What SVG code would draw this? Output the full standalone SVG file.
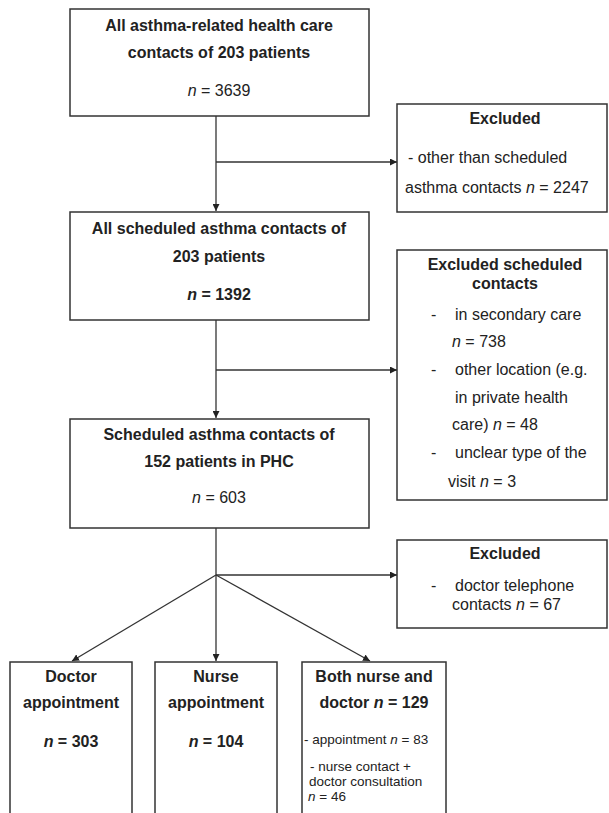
<svg xmlns="http://www.w3.org/2000/svg" width="609" height="813" viewBox="0 0 609 813">
<style>
.box{fill:#fff;stroke:#333;stroke-width:1.5}
.t{font-family:"Liberation Sans",Arial,sans-serif;font-size:16px;fill:#222}
.b{font-weight:bold}
.c{text-anchor:middle}
.s{font-size:13.5px}
.ln{fill:none;stroke:#333;stroke-width:1.3}
</style>
<defs>
<marker id="ah" viewBox="0 0 10 10" refX="10" refY="5" markerWidth="7" markerHeight="7" orient="auto" markerUnits="userSpaceOnUse">
<path d="M0,0 L10,5 L0,10 z" fill="#222"/>
</marker>
</defs>
<rect width="609" height="813" fill="#fff"/>
<g id="connectors">
<line class="ln" x1="216" y1="116" x2="216" y2="211" marker-end="url(#ah)"/>
<line class="ln" x1="216" y1="162" x2="397" y2="162" marker-end="url(#ah)"/>
<line class="ln" x1="216" y1="320" x2="216" y2="418" marker-end="url(#ah)"/>
<line class="ln" x1="216" y1="370" x2="397" y2="370" marker-end="url(#ah)"/>
<line class="ln" x1="216" y1="528" x2="216" y2="575"/>
<line class="ln" x1="216" y1="575" x2="397" y2="575" marker-end="url(#ah)"/>
<line class="ln" x1="216" y1="575" x2="72" y2="661" marker-end="url(#ah)"/>
<line class="ln" x1="216" y1="575" x2="216" y2="661" marker-end="url(#ah)"/>
<line class="ln" x1="216" y1="575" x2="370" y2="661" marker-end="url(#ah)"/>
</g>
<g id="n1">
<rect class="box" x="70" y="9" width="299" height="107"/>
<text class="t b c" x="219" y="31">All asthma-related health care</text>
<text class="t b c" x="219" y="58">contacts of 203 patients</text>
<text class="t c" x="219" y="96"><tspan font-style="italic">n</tspan> = 3639</text>
</g>
<g id="ex1">
<rect class="box" x="397" y="104" width="210" height="108"/>
<text class="t b c" x="505" y="124">Excluded</text>
<text class="t" x="408" y="163">- other than scheduled</text>
<text class="t" x="405" y="193">asthma contacts  <tspan font-style="italic">n</tspan> = 2247</text>
</g>
<g id="n2">
<rect class="box" x="70" y="212" width="299" height="108"/>
<text class="t b c" x="219" y="234">All scheduled asthma contacts of</text>
<text class="t b c" x="219" y="262">203 patients</text>
<text class="t b c" x="219" y="300"><tspan font-style="italic">n</tspan> = 1392</text>
</g>
<g id="ex2">
<rect class="box" x="397" y="250" width="210" height="250"/>
<text class="t b c" x="505" y="270">Excluded scheduled</text>
<text class="t b c" x="505" y="289">contacts</text>
<text class="t" x="431" y="320">-</text>
<text class="t" x="455" y="320">in secondary care</text>
<text class="t" x="452" y="347"><tspan font-style="italic">n</tspan> = 738</text>
<text class="t" x="431" y="375">-</text>
<text class="t" x="455" y="375">other location (e.g.</text>
<text class="t" x="455" y="403">in private health</text>
<text class="t" x="452" y="430">care) <tspan font-style="italic">n</tspan> = 48</text>
<text class="t" x="431" y="458">-</text>
<text class="t" x="455" y="458">unclear type of the</text>
<text class="t" x="448" y="487">visit <tspan font-style="italic">n</tspan> = 3</text>
</g>
<g id="n3">
<rect class="box" x="70" y="419" width="299" height="109"/>
<text class="t b c" x="219" y="440">Scheduled asthma contacts of</text>
<text class="t b c" x="219" y="467">152 patients in PHC</text>
<text class="t c" x="219" y="503"><tspan font-style="italic">n</tspan> = 603</text>
</g>
<g id="ex3">
<rect class="box" x="397" y="540" width="210" height="88"/>
<text class="t b c" x="505" y="559">Excluded</text>
<text class="t" x="431" y="591">-</text>
<text class="t" x="455" y="591">doctor telephone</text>
<text class="t" x="452" y="610">contacts <tspan font-style="italic">n</tspan> = 67</text>
</g>
<g id="doc">
<rect class="box" x="10" y="662" width="122" height="160"/>
<text class="t b c" x="71" y="682">Doctor</text>
<text class="t b c" x="71" y="708">appointment</text>
<text class="t b c" x="71" y="747"><tspan font-style="italic">n</tspan> = 303</text>
</g>
<g id="nurse">
<rect class="box" x="155" y="662" width="122" height="160"/>
<text class="t b c" x="216" y="682">Nurse</text>
<text class="t b c" x="216" y="708">appointment</text>
<text class="t b c" x="216" y="747"><tspan font-style="italic">n</tspan> = 104</text>
</g>
<g id="both">
<rect class="box" x="302" y="662" width="144" height="160"/>
<text class="t b c" x="374" y="682">Both nurse and</text>
<text class="t b c" x="374" y="708">doctor <tspan font-style="italic">n</tspan> = 129</text>
<text class="t s" x="304" y="744">- appointment <tspan font-style="italic">n</tspan> = 83</text>
<text class="t s" x="310" y="771">- nurse contact +</text>
<text class="t s" x="309" y="786">doctor consultation</text>
<text class="t s" x="308" y="801"><tspan font-style="italic">n</tspan> = 46</text>
</g>
</svg>
